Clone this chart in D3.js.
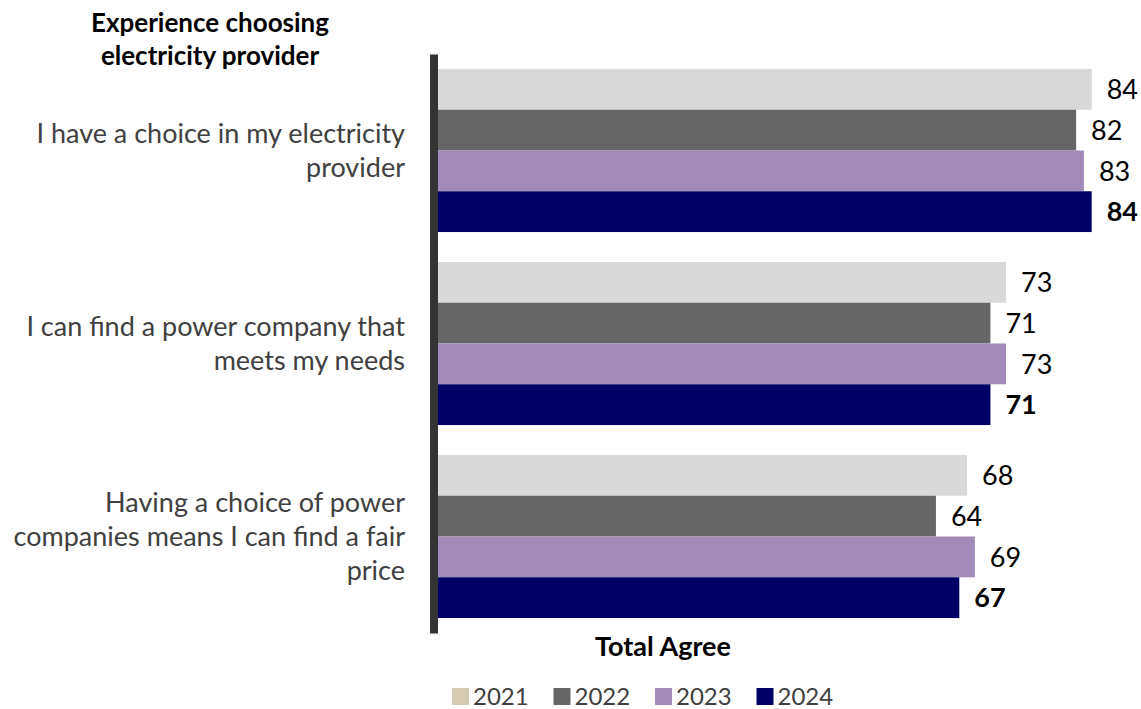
<!DOCTYPE html>
<html>
<head>
<meta charset="utf-8">
<script src="https://cdn.jsdelivr.net/npm/d3@7"></script>
<style>
  html, body { margin: 0; padding: 0; background: #fff; }
  svg { display: block; font-family: Lato, "Noto Sans", sans-serif; }
</style>
</head>
<body>
<svg id="chart" width="1141" height="709"></svg>
<script>
// Statements (one group of bars each), wrapped as they appear on the left
const categories = [
  "I have a choice in my electricity provider",
  "I can find a power company that meets my needs",
  "Having a choice of power companies means I can find a fair price"
];
const categoryLines = [
  ["I have a choice in my electricity", "provider"],
  ["I can find a power company that", "meets my needs"],
  ["Having a choice of power", "companies means I can find a fair", "price"]
];
const years = ["2021", "2022", "2023", "2024"];
// Total agree (%) per year, in category order
const values2021 = [84, 73, 68];
const values2022 = [82, 71, 64];
const values2023 = [83, 73, 69];
const values2024 = [84, 71, 67];
const seriesValues = [values2021, values2022, values2023, values2024];

const barColors = ["#d9d9d9", "#666666", "#a189b9", "#000066"];
const legendColors = ["#d5cab4", "#666666", "#a189b9", "#000066"];

const svg = d3.select("#chart");

const y = d3.scaleBand()
  .domain(categories)
  .range([54, 633])
  .paddingInner(0.155)
  .paddingOuter(0.0775);

const yInner = d3.scaleBand()
  .domain(years)
  .range([0, y.bandwidth()]);

const x = d3.scaleLinear()
  .domain([0, 100])
  .range([437.5, 1216.3]);

// Bars
const groups = svg.append("g").selectAll("g")
  .data(categories)
  .join("g")
  .attr("transform", d => `translate(0,${y(d)})`);

groups.each(function(cat, ci) {
  const g = d3.select(this);
  const rows = years.map((yr, si) => ({ yr, si, v: seriesValues[si][ci] }));
  g.selectAll("rect")
    .data(rows)
    .join("rect")
    .attr("x", x(0))
    .attr("y", d => yInner(d.yr))
    .attr("width", d => x(d.v) - x(0))
    .attr("height", yInner.bandwidth())
    .attr("fill", d => barColors[d.si]);
  g.selectAll("text.val")
    .data(rows)
    .join("text")
    .attr("class", "val")
    .attr("x", d => x(d.v) + 15)
    .attr("y", d => yInner(d.yr) + yInner.bandwidth() / 2)
    .attr("dy", "0.36em")
    .attr("font-size", 27)
    .attr("font-weight", d => d.si === 3 ? "bold" : "normal")
    .attr("fill", "#000")
    .text(d => d.v);
});

// Vertical axis line
const axis = svg.append("g")
  .attr("transform", `translate(433.5,0)`)
  .call(d3.axisLeft(y).tickSize(0).tickFormat("").tickSizeOuter(0));
axis.select(".domain").attr("stroke", "#333333").attr("stroke-width", 8);

// Category labels, right aligned
const lineH = 34;
svg.append("g").selectAll("text")
  .data(categories)
  .join("text")
  .attr("text-anchor", "end")
  .attr("font-size", 27)
  .attr("fill", "#404040")
  .each(function(cat, ci) {
    const lines = categoryLines[ci];
    const cy = y(cat) + y.bandwidth() / 2;
    const first = cy - (lines.length - 1) * lineH / 2 + 9;
    d3.select(this).selectAll("tspan")
      .data(lines)
      .join("tspan")
      .attr("x", 405)
      .attr("y", (d, i) => first + i * lineH)
      .text(d => d);
  });

// Title above the labels
svg.append("text")
  .attr("text-anchor", "middle")
  .attr("font-size", 26)
  .attr("font-weight", "bold")
  .attr("fill", "#000")
  .selectAll("tspan")
  .data(["Experience choosing", "electricity provider"])
  .join("tspan")
  .attr("x", 210)
  .attr("y", (d, i) => 32 + i * 33)
  .text(d => d);

// Axis caption
svg.append("text")
  .attr("x", 663)
  .attr("y", 656)
  .attr("text-anchor", "middle")
  .attr("font-size", 27)
  .attr("font-weight", "bold")
  .attr("fill", "#000")
  .text("Total Agree");

// Legend along the bottom edge
const legend = svg.append("g").selectAll("g")
  .data(years)
  .join("g")
  .attr("transform", (d, i) => `translate(${452 + i * 101.5},688)`);
legend.append("rect")
  .attr("width", 17)
  .attr("height", 17)
  .attr("fill", (d, i) => legendColors[i]);
legend.append("text")
  .attr("x", 21)
  .attr("y", 16.5)
  .attr("font-size", 24)
  .attr("fill", "#404040")
  .text(d => d);
</script>
</body>
</html>
